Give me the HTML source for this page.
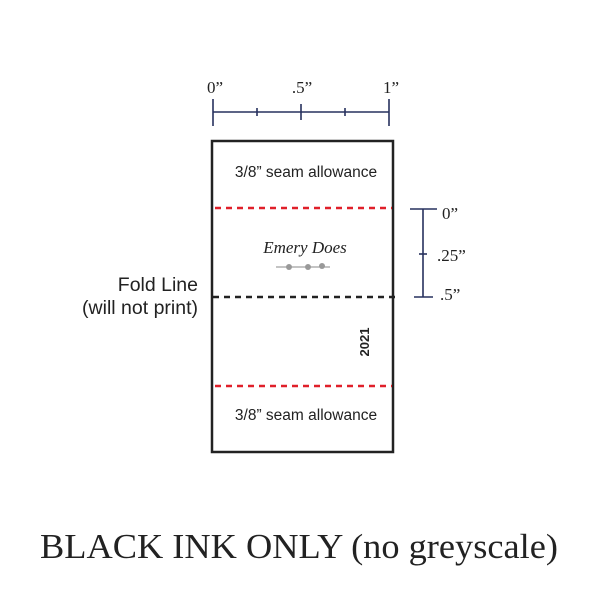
<!DOCTYPE html>
<html><head><style>
body{margin:0;background:#fff;width:600px;height:600px;overflow:hidden}
</style></head><body>
<svg width="600" height="600" xmlns="http://www.w3.org/2000/svg">
<g font-family="Liberation Serif, serif" fill="#222" font-size="17">
<text x="215" y="93" text-anchor="middle">0”</text>
<text x="302" y="93" text-anchor="middle">.5”</text>
<text x="391" y="93" text-anchor="middle">1”</text>
</g>
<g stroke="#27315e" stroke-width="1.6">
<line x1="213" y1="112" x2="389" y2="112"/>
<line x1="213" y1="99" x2="213" y2="126"/>
<line x1="389" y1="99" x2="389" y2="126"/>
<line x1="301" y1="104" x2="301" y2="120"/>
<line x1="257" y1="108" x2="257" y2="116"/>
<line x1="345" y1="108" x2="345" y2="116"/>
<line x1="423" y1="209" x2="423" y2="297"/>
<line x1="410" y1="209" x2="437" y2="209"/>
<line x1="414" y1="297" x2="433" y2="297"/>
<line x1="419" y1="254" x2="427" y2="254"/>
</g>
<g font-family="Liberation Serif, serif" fill="#222" font-size="17">
<text x="442" y="219">0”</text>
<text x="437" y="261">.25”</text>
<text x="440" y="300">.5”</text>
</g>
<rect x="212" y="141" width="181" height="311" fill="none" stroke="#222" stroke-width="2.5"/>
<line x1="215" y1="208" x2="392" y2="208" stroke="#e0202a" stroke-width="2.5" stroke-dasharray="6,5"/>
<line x1="215" y1="386" x2="392" y2="386" stroke="#e0202a" stroke-width="2.5" stroke-dasharray="6,5"/>
<line x1="213" y1="297" x2="395" y2="297" stroke="#222" stroke-width="2.5" stroke-dasharray="6,5"/>
<g font-family="Liberation Sans, sans-serif" fill="#222" font-size="15.5">
<text x="306" y="177" text-anchor="middle">3/8” seam allowance</text>
<text x="306" y="420" text-anchor="middle">3/8” seam allowance</text>
<text x="198" y="291" text-anchor="end" font-size="19.5">Fold Line</text>
<text x="198" y="314" text-anchor="end" font-size="19.5">(will not print)</text>
<text transform="translate(369,342) rotate(-90)" text-anchor="middle" font-size="13" font-weight="bold">2021</text>
</g>
<text x="305" y="253" text-anchor="middle" font-family="Liberation Serif, serif" font-style="italic" font-size="17" fill="#222">Emery Does</text>
<line x1="276" y1="267" x2="330" y2="267" stroke="#888" stroke-width="1"/>
<circle cx="289" cy="267" r="3" fill="#999"/><circle cx="308" cy="267" r="3" fill="#999"/><circle cx="322" cy="266" r="3" fill="#999"/>
<text x="299" y="558" text-anchor="middle" font-family="Liberation Serif, serif" font-size="35" fill="#222" textLength="518" lengthAdjust="spacingAndGlyphs">BLACK INK ONLY (no greyscale)</text>
</svg>
</body></html>
